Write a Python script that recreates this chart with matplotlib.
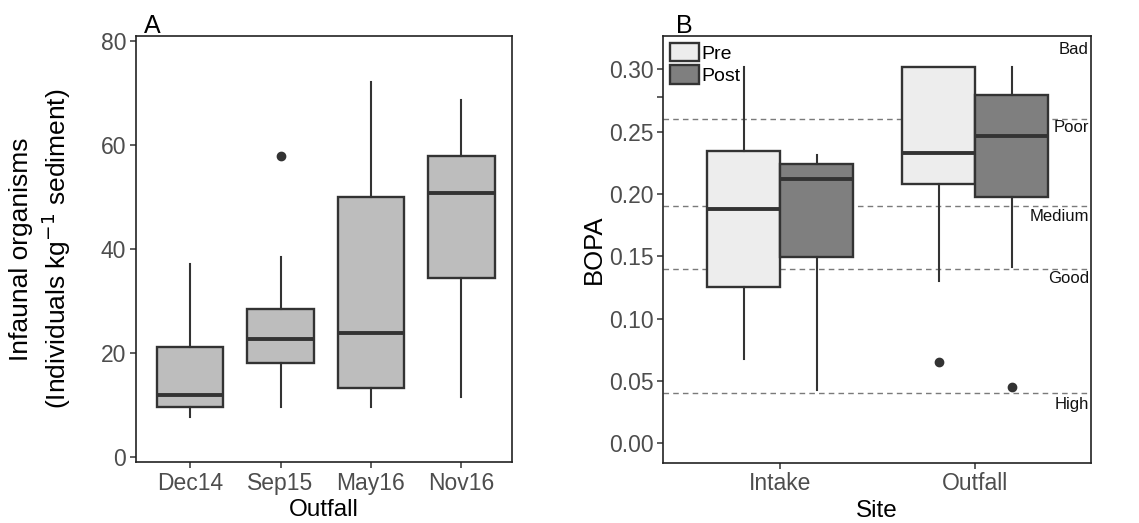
import matplotlib
matplotlib.use("Agg")
import matplotlib.pyplot as plt
import matplotlib.transforms as mtransforms
from matplotlib.patches import Patch

plt.rcParams['font.family'] = ['Liberation Sans', 'DejaVu Sans']

# panel A: infaunal organisms at the outfall
surveys = ["Dec14", "Sep15", "May16", "Nov16"]
a_whislo = [7.7, 9.6, 9.6, 11.6]
a_q1 = [9.7, 18.2, 13.4, 34.5]
a_med = [12.0, 22.7, 23.8, 50.8]
a_q3 = [21.2, 28.4, 50.0, 57.8]
a_whishi = [37.2, 38.5, 72.1, 68.6]
a_fliers = [[], [57.9], [], []]

# panel B: BOPA index per site, pre and post
sites = ["Intake", "Outfall"]
periods = ["Pre", "Post"]
b_whislo = {"Pre": [0.0674, 0.130], "Post": [0.0428, 0.1417]}
b_q1 = {"Pre": [0.1256, 0.208], "Post": [0.1497, 0.1976]}
b_med = {"Pre": [0.1877, 0.2326], "Post": [0.2118, 0.2465]}
b_q3 = {"Pre": [0.2345, 0.302], "Post": [0.224, 0.2794]}
b_whishi = {"Pre": [0.302, 0.302], "Post": [0.2313, 0.302]}
b_fliers = {"Pre": [[], [0.065]], "Post": [[], [0.0454]]}

status_lines = [0.26, 0.19, 0.14, 0.04]
status_names = ["Bad", "Poor", "Medium", "Good", "High"]
status_text_y = [0.316, 0.253, 0.182, 0.132, 0.0315]

edge = "#333333"
tickc = "#4D4D4D"


def stats(lo, q1, med, q3, hi, fl):
    return [dict(whislo=lo[i], q1=q1[i], med=med[i], q3=q3[i], whishi=hi[i], fliers=fl[i])
            for i in range(len(med))]


def style_axes(ax):
    for s in ax.spines.values():
        s.set_color("#222222")
        s.set_linewidth(1.2)
    ax.tick_params(direction="out", length=4, width=1.1, color=edge,
                   labelcolor=tickc, labelsize=16.5, pad=3)


def panel_tag(ax, x, s):
    tr = mtransforms.offset_copy(ax.transAxes, fig=fig, x=0, y=3, units="dots")
    ax.text(x, 1.0, s, transform=tr, fontsize=18, ha="left", va="baseline")


box_kw = dict(patch_artist=True, showcaps=False,
              boxprops=dict(edgecolor=edge, linewidth=1.7),
              medianprops=dict(color=edge, linewidth=2.8, solid_capstyle="butt"),
              whiskerprops=dict(color=edge, linewidth=1.5),
              flierprops=dict(marker="o", markersize=6, markerfacecolor=edge,
                              markeredgecolor=edge))

fig = plt.figure(figsize=(11.39, 5.23), dpi=100)

# ---- panel A
ax1 = fig.add_axes([0.1194, 0.1166, 0.3301, 0.8146])
pos = list(range(1, len(surveys) + 1))
arts = ax1.bxp(stats(a_whislo, a_q1, a_med, a_q3, a_whishi, a_fliers),
               positions=pos, widths=0.735, **box_kw)
for b in arts["boxes"]:
    b.set_facecolor("#BDBDBD")
ax1.set_xlim(0.4, 4.56)
ax1.set_ylim(-0.9, 80.9)
ax1.set_yticks([0, 20, 40, 60, 80])
ax1.set_xticks(pos)
ax1.set_xticklabels(surveys)
style_axes(ax1)
ax1.set_xlabel("Outfall", fontsize=17.5, labelpad=3)
ax1.set_ylabel("Infaunal organisms\n(Individuals kg$^{-1}$ sediment)", fontsize=19,
               linespacing=1.25, labelpad=20)
panel_tag(ax1, 0.022, "A")

# ---- panel B
ax2 = fig.add_axes([0.5824, 0.1153, 0.3755, 0.8159])
w = 0.375
fills = {"Pre": "#EDEDED", "Post": "#7F7F7F"}
for j, p in enumerate(periods):
    offs = [i + 1 + (j - 0.5) * w for i in range(len(sites))]
    arts = ax2.bxp(stats(b_whislo[p], b_q1[p], b_med[p], b_q3[p], b_whishi[p], b_fliers[p]),
                   positions=offs, widths=w, **box_kw)
    for b in arts["boxes"]:
        b.set_facecolor(fills[p])
for y in status_lines:
    ax2.axhline(y, color="#7A7A7A", linestyle=(0, (4, 3)), linewidth=1.0, zorder=0)
for name, y in zip(status_names, status_text_y):
    ax2.text(0.995, y, name, transform=ax2.get_yaxis_transform(), ha="right",
             va="center", fontsize=12, color="#111111")
ax2.set_xlim(0.4, 2.595)
ax2.set_ylim(-0.0155, 0.3267)
ax2.set_yticks([0.0, 0.05, 0.10, 0.15, 0.20, 0.25, 0.278, 0.30])
ax2.set_yticklabels(["0.00", "0.05", "0.10", "0.15", "0.20", "0.25", "", "0.30"])
ax2.set_xticks([1, 2])
ax2.set_xticklabels(sites)
style_axes(ax2)
ax2.set_xlabel("Site", fontsize=17.5, labelpad=3)
ax2.set_ylabel("BOPA", fontsize=18.5, labelpad=2)
panel_tag(ax2, 0.03, "B")
handles = [Patch(facecolor=fills[p], edgecolor=edge, linewidth=1.7, label=p) for p in periods]
ax2.legend(handles=handles, loc="upper left", frameon=False, fontsize=14,
           handlelength=1.5, handleheight=1.1, handletextpad=0.1, labelspacing=0.12,
           borderaxespad=0.15, borderpad=0.2)

fig.savefig("out.png", dpi=100)
